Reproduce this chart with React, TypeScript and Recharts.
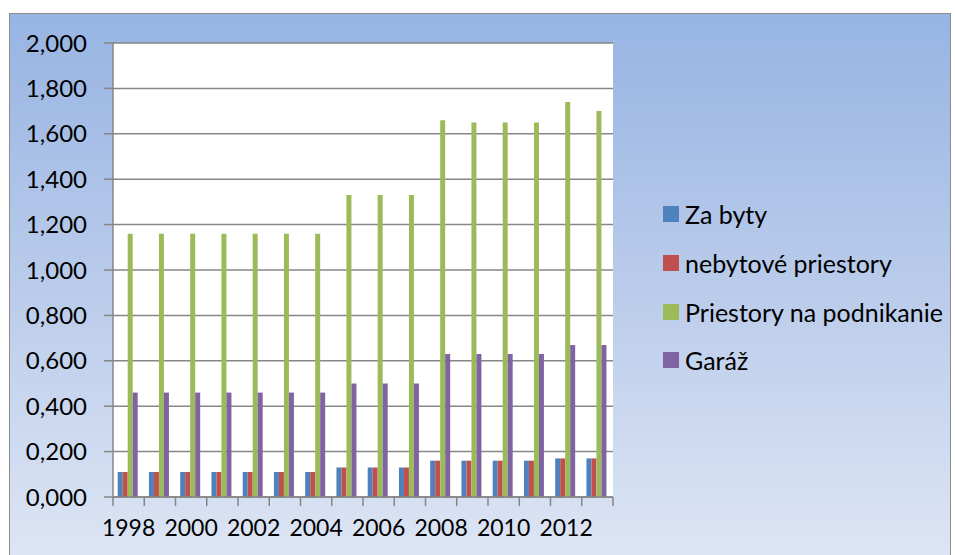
import React from 'react';
import { BarChart, Bar, XAxis, YAxis, CartesianGrid, Legend } from 'recharts';

const years = ['1998', '1999', '2000', '2001', '2002', '2003', '2004', '2005', '2006', '2007', '2008', '2009', '2010', '2011', '2012', '2013'];
const zaByty = [0.11, 0.11, 0.11, 0.11, 0.11, 0.11, 0.11, 0.13, 0.13, 0.13, 0.16, 0.16, 0.16, 0.16, 0.17, 0.17];
const nebytove = [0.11, 0.11, 0.11, 0.11, 0.11, 0.11, 0.11, 0.13, 0.13, 0.13, 0.16, 0.16, 0.16, 0.16, 0.17, 0.17];
const podnikanie = [1.16, 1.16, 1.16, 1.16, 1.16, 1.16, 1.16, 1.33, 1.33, 1.33, 1.66, 1.65, 1.65, 1.65, 1.74, 1.7];
const garaz = [0.46, 0.46, 0.46, 0.46, 0.46, 0.46, 0.46, 0.5, 0.5, 0.5, 0.63, 0.63, 0.63, 0.63, 0.67, 0.67];
const yTicks = [0, 0.2, 0.4, 0.6, 0.8, 1.0, 1.2, 1.4, 1.6, 1.8, 2.0];

const series = [
  { key: 'zaByty', name: 'Za byty', color: '#4f81bd' },
  { key: 'nebytove', name: 'nebytové priestory', color: '#c0504d' },
  { key: 'podnikanie', name: 'Priestory na podnikanie', color: '#9bbb59' },
  { key: 'garaz', name: 'Garáž', color: '#8064a2' },
];

const data = years.map((year, i) => ({
  year,
  zaByty: zaByty[i],
  nebytove: nebytove[i],
  podnikanie: podnikanie[i],
  garaz: garaz[i],
}));

const FONT = 'Lato, "Open Sans", sans-serif';
const AXIS = '#868686';
const BAND = 500 / years.length;

const fmt = (v: number) => v.toFixed(3).replace('.', ',');

function YearTick(props: any) {
  const { x, y, payload, index } = props;
  const half = BAND / 2;
  return (
    <g>
      <line x1={x - half} x2={x - half} y1={y - 8} y2={y + 1} stroke={AXIS} strokeWidth={1.5} />
      {index === years.length - 1 && (
        <line x1={x + half} x2={x + half} y1={y - 8} y2={y + 1} stroke={AXIS} strokeWidth={1.5} />
      )}
      {index % 2 === 0 && (
        <text x={x} y={y + 25} textAnchor="middle" dominantBaseline="middle" fill="#000" fontSize={23} fontFamily={FONT}>
          {payload.value}
        </text>
      )}
    </g>
  );
}

function LegendContent() {
  return (
    <div style={{ fontFamily: FONT, fontSize: 25, color: '#000' }}>
      {series.map((s) => (
        <div key={s.key} style={{ display: 'flex', alignItems: 'center', height: 48.7 }}>
          <span style={{ display: 'inline-block', width: 16, height: 16, background: s.color, marginRight: 6 }} />
          <span>{s.name}</span>
        </div>
      ))}
    </div>
  );
}

export default function App() {
  return (
    <div style={{ position: 'absolute', left: 0, top: 0, width: 955, height: 555, overflow: 'hidden', background: '#fff' }}>
      <div
        style={{
          position: 'absolute',
          left: 9,
          top: 13,
          width: 940,
          height: 580,
          border: '1px solid #8c8c8c',
          background: 'linear-gradient(to bottom, #97b4e3 0%, #bccdeb 50%, #e2e9f6 100%)',
        }}
      />
      <div style={{ position: 'absolute', left: 0, top: 0 }}>
        <BarChart
          width={955}
          height={555}
          data={data}
          margin={{ top: 43, right: 342, bottom: 0, left: 0 }}
          barCategoryGap="15%"
          barGap={0}
        >
          <CartesianGrid vertical={false} fill="#fff" stroke={AXIS} strokeWidth={1.5} />
          <XAxis
            dataKey="year"
            height={58}
            interval={0}
            tickLine={false}
            axisLine={{ stroke: AXIS, strokeWidth: 1.5 }}
            tick={<YearTick />}
          />
          <YAxis
            width={113}
            domain={[0, 2]}
            ticks={yTicks}
            tickFormatter={fmt}
            tickSize={9}
            tickMargin={17}
            tickLine={{ stroke: AXIS, strokeWidth: 1.5 }}
            axisLine={{ stroke: AXIS, strokeWidth: 1.5 }}
            tick={{ fill: '#000', fontSize: 24, fontFamily: FONT }}
          />
          <Legend
            layout="vertical"
            align="center"
            verticalAlign="middle"
            wrapperStyle={{ left: 663, top: 190, width: 292 }}
            content={<LegendContent />}
          />
          {series.map((s) => (
            <Bar key={s.key} dataKey={s.key} name={s.name} fill={s.color} isAnimationActive={false} />
          ))}
        </BarChart>
      </div>
    </div>
  );
}
